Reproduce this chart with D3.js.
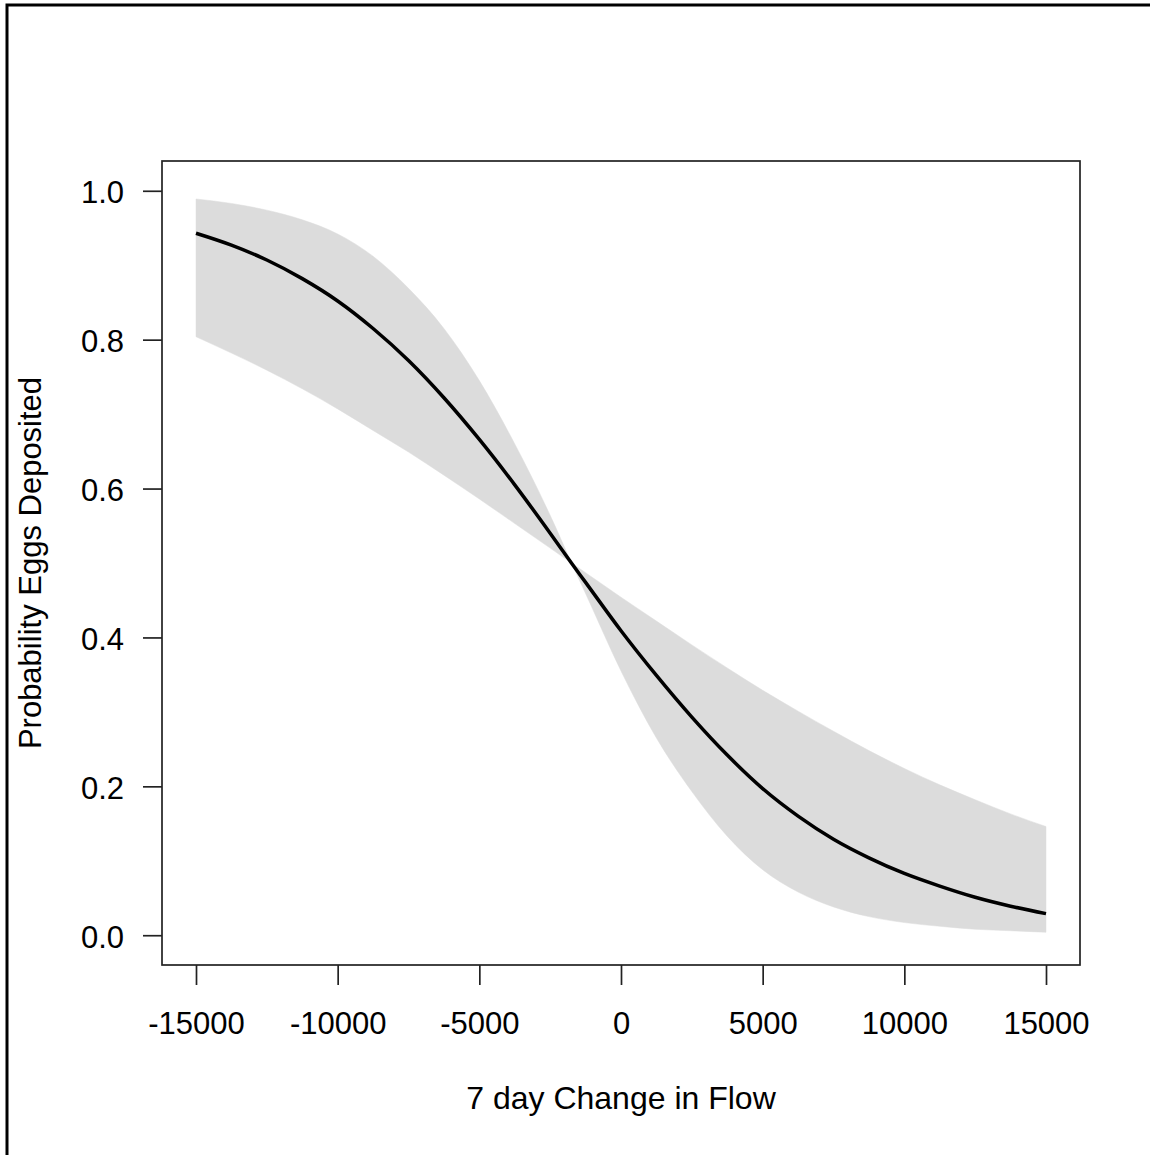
<!DOCTYPE html>
<html>
<head>
<meta charset="utf-8">
<script src="https://cdn.jsdelivr.net/npm/d3@7"></script>
<style>
  body { margin: 0; background: white; }
  svg { display: block; font-family: "Liberation Sans", Arial, sans-serif; }
</style>
</head>
<body>
<svg id="chart"></svg>
<script>
// values
var flowChange = [-15000, -13750, -12500, -11250, -10000, -8750, -7500, -6250, -5000, -3750,
                  -2500, -1750, -1250, 0, 1250, 2500, 3750, 5000, 6250, 7500,
                  8750, 10000, 11250, 12500, 13750, 15000];
var probFit   = [0.943, 0.927, 0.907, 0.882, 0.852, 0.815, 0.772, 0.722, 0.666, 0.605,
                 0.540, 0.500, 0.474, 0.409, 0.349, 0.293, 0.242, 0.197, 0.160, 0.129,
                 0.104, 0.083, 0.066, 0.051, 0.039, 0.029];
var probUpper = [0.989, 0.983, 0.974, 0.961, 0.942, 0.912, 0.869, 0.815, 0.745, 0.660,
                 0.564, 0.500, 0.487, 0.454, 0.422, 0.390, 0.359, 0.329, 0.301, 0.274,
                 0.248, 0.224, 0.202, 0.182, 0.163, 0.146];
var probLower = [0.804, 0.782, 0.759, 0.734, 0.707, 0.678, 0.649, 0.618, 0.586, 0.553,
                 0.520, 0.500, 0.459, 0.355, 0.265, 0.193, 0.133, 0.088, 0.058, 0.038,
                 0.025, 0.017, 0.012, 0.008, 0.006, 0.004];
// the two limits of the band meet here
var crossAt = -1750;

var xTicks = [-15000, -10000, -5000, 0, 5000, 10000, 15000];
var yTicks = [0, 0.2, 0.4, 0.6, 0.8, 1.0];

var xTitle = "7 day Change in Flow";
var yTitle = "Probability Eggs Deposited";

var width = 1150, height = 1155;
var box = { left: 162, right: 1080, top: 161, bottom: 965 };

var svg = d3.select('#chart').attr('width', width).attr('height', height);

svg.append('rect')
    .attr('width', width).attr('height', height)
    .style('fill', 'white');

// frame around the figure (only left and top edges show)
svg.append('path')
    .attr('d', 'M7,' + height + 'V5H' + width)
    .attr('fill', 'none')
    .attr('stroke', 'black')
    .attr('stroke-width', 3);

// R style 4% padding on both axes
var x = d3.scaleLinear().domain([-16200, 16200]).range([box.left, box.right]);
var y = d3.scaleLinear().domain([-0.04, 1.04]).range([box.bottom, box.top]);

var rows = flowChange.map(function(d, i) {
    return { x: d, fit: probFit[i], hi: probUpper[i], lo: probLower[i] };
});

var area = d3.area()
    .x(function(d) { return x(d.x); })
    .y0(function(d) { return y(d.lo); })
    .y1(function(d) { return y(d.hi); })
    .curve(d3.curveMonotoneX);

// band drawn in two pieces so the pinch stays sharp
var bandParts = [
    rows.filter(function(d) { return d.x <= crossAt; }),
    rows.filter(function(d) { return d.x >= crossAt; })
];

svg.selectAll('path.band')
    .data(bandParts)
    .enter().append('path')
    .attr('class', 'band')
    .attr('d', area)
    .attr('fill', '#dcdcdc')
    .attr('stroke', '#dcdcdc')
    .attr('stroke-width', 0.5);

var line = d3.line()
    .x(function(d) { return x(d.x); })
    .y(function(d) { return y(d.fit); })
    .curve(d3.curveMonotoneX);

svg.append('path')
    .datum(rows)
    .attr('d', line)
    .attr('fill', 'none')
    .attr('stroke', 'black')
    .attr('stroke-width', 3.5);

// plot box
svg.append('rect')
    .attr('x', box.left).attr('y', box.top)
    .attr('width', box.right - box.left)
    .attr('height', box.bottom - box.top)
    .attr('fill', 'none')
    .attr('stroke', '#222')
    .attr('stroke-width', 1.7);

var xAxis = svg.append('g')
    .attr('transform', 'translate(0,' + box.bottom + ')')
    .call(d3.axisBottom(x).tickValues(xTicks).tickSize(20)
        .tickFormat(function(d) { return d3.format('d')(d).replace('\u2212', '-'); }));

var yAxis = svg.append('g')
    .attr('transform', 'translate(' + box.left + ',0)')
    .call(d3.axisLeft(y).tickValues(yTicks).tickSize(19).tickPadding(19)
        .tickFormat(d3.format('.1f')));

[xAxis, yAxis].forEach(function(g) {
    g.select('.domain').remove();
    g.selectAll('.tick line').attr('stroke', '#222').attr('stroke-width', 1.7);
    g.selectAll('.tick text')
        .attr('font-family', '"Liberation Sans", Arial, sans-serif')
        .attr('font-size', 31)
        .attr('fill', '#000');
});

xAxis.selectAll('.tick text').attr('dy', null).attr('y', 69);
yAxis.selectAll('.tick text').attr('dy', null).attr('y', 12);

svg.append('text')
    .attr('x', (box.left + box.right) / 2)
    .attr('y', 1109)
    .attr('text-anchor', 'middle')
    .attr('font-size', 32)
    .attr('fill', '#000')
    .text(xTitle);

svg.append('text')
    .attr('transform', 'translate(41,' + (box.top + box.bottom) / 2 + ') rotate(-90)')
    .attr('text-anchor', 'middle')
    .attr('font-size', 31)
    .attr('fill', '#000')
    .text(yTitle);
</script>
</body>
</html>
